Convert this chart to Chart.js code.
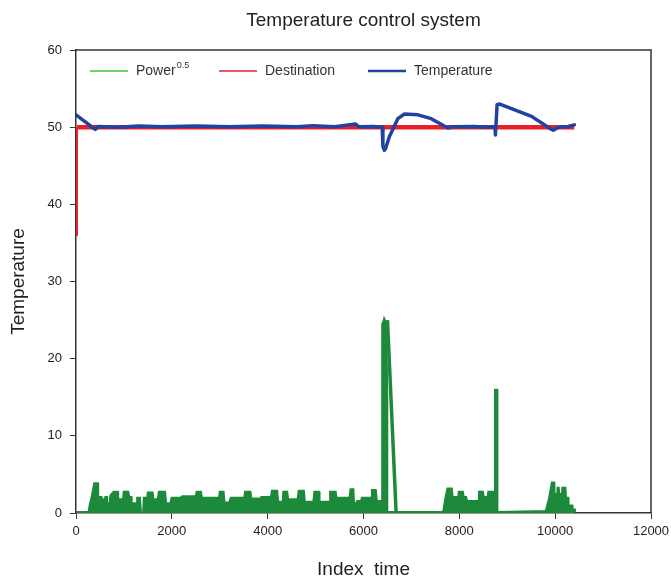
<!DOCTYPE html>
<html><head><meta charset="utf-8">
<script src="https://cdn.jsdelivr.net/npm/chart.js@4.4.0/dist/chart.umd.min.js"></script>
<style>html,body{margin:0;padding:0;background:#fff}</style>
</head><body>
<canvas id="c" width="671" height="577"></canvas>
<script>
// ---- data ----
const xTickValues = [0, 2000, 4000, 6000, 8000, 10000, 12000];
const yTickValues = [0, 10, 20, 30, 40, 50, 60];

// Power^0.5 envelope (dense oscillation drawn as filled envelope)
const powerX = [0,258,279,328,377,460,468,537,545,600,607,650,656,698,712,782,880,886,977,991,1096,1117,1160,1166,1256,1271,1340,1361,1396,1410,1480,1494,1605,1619,1703,1724,1864,1885,1968,1989,2178,2213,2492,2513,2611,2632,2980,2995,3085,3106,3190,3225,3504,3525,3644,3665,3853,3860,4063,4084,4203,4224,4310,4321,4412,4433,4621,4643,4760,4781,4949,4970,5074,5088,5284,5298,5424,5438,5703,5724,5794,5807,5842,5864,5947,5960,6157,6171,6262,6283,6370,6385,6410,6430,6460,6480,6500,6502,7657,7706,7748,7846,7867,7972,7985,8077,8098,8146,8167,8390,8403,8496,8516,8585,8600,8725,8739,8790,8800,9800,9870,9926,9982,9990,10037,10045,10079,10090,10135,10145,10219,10230,10275,10285,10359,10370,10414,10420];
const powerY = [0.15,0.15,1.0,2.3,3.9,3.9,2.1,2.1,1.8,1.8,2.1,2.1,1.3,1.3,2.3,2.8,2.8,1.8,1.8,2.8,2.8,2.1,2.1,1.3,1.3,2.0,2.0,0.1,0.1,2.0,2.0,2.7,2.7,1.8,1.8,2.8,2.8,1.3,1.3,2.0,2.0,2.2,2.2,2.8,2.8,2.0,2.0,2.8,2.8,1.4,1.4,2.0,2.0,2.8,2.8,1.9,1.9,2.1,2.1,2.9,2.9,1.5,1.5,2.8,2.8,1.8,1.8,2.9,2.9,1.5,1.5,2.8,2.8,1.5,1.5,2.8,2.8,2.0,2.0,3.1,3.1,1.3,1.3,1.6,1.6,2.0,2.0,3.0,3.0,1.6,1.6,24.5,24.8,25.3,24.9,24.6,15.3,0.15,0.15,2.0,3.2,3.2,2.1,2.1,2.8,2.8,2.1,2.1,1.6,1.6,2.8,2.8,2.1,2.1,2.8,2.8,16.0,16.0,0.15,0.3,2.0,4.0,4.0,2.5,2.5,3.3,3.3,2.5,2.5,3.3,3.3,2.0,2.0,1.0,1.0,0.5,0.5,0.15];
// falling tail of the big power burst
const powerTailX = [6500, 6680];
const powerTailY = [25.0, 0.15];

const destX = [20, 20, 10400];
const destY = [35.9, 50.0, 50.0];

const tempX = [0,400,470,900,1300,1800,2500,3200,3900,4600,4950,5400,5836,5900,6200,6390,6405,6436,6460,6541,6716,6855,7135,7413,7762,7850,8300,8600,8705,8745,8753,8788,8843,9088,9507,9926,9961,10066,10275,10400];
const tempY = [51.6,49.7,50.1,50.0,50.15,50.05,50.15,50.05,50.15,50.05,50.2,50.05,50.4,50.05,50.1,50.0,47.5,47.0,47.2,48.8,51.1,51.7,51.6,51.1,49.9,50.05,50.1,50.0,50.05,50.0,49.0,52.9,53.0,52.4,51.4,49.7,49.6,50.0,50.1,50.3];

const pts = (xs, ys) => xs.map((x, i) => ({x, y: ys[i]}));

const GREEN = 'rgb(28,138,58)';
const BLUE = 'rgb(33,66,160)';
const RED = 'rgb(232,32,40)';
const FONT = "'Liberation Sans', Arial, sans-serif";

const decor = {
  id: 'decor',
  afterDatasetsDraw(chart) {
    const {ctx, chartArea: a} = chart;
    ctx.save();
    ctx.strokeStyle = '#333';
    ctx.lineWidth = 1.5;
    ctx.beginPath();
    ctx.moveTo(a.left, a.top); ctx.lineTo(a.right, a.top); ctx.lineTo(a.right, a.bottom);
    ctx.stroke();
    ctx.restore();
  },
  afterDraw(chart) {
    const {ctx, chartArea: a} = chart;
    ctx.save();
    // title
    ctx.fillStyle = '#222';
    ctx.font = '19px ' + FONT;
    ctx.textAlign = 'center';
    ctx.textBaseline = 'middle';
    ctx.fillText('Temperature control system', (a.left + a.right) / 2, 21);
    // legend
    const ly = 71;
    const items = [
      {x: 90, color: 'rgb(60,196,60)', w: 1.5, text: 'Power', sup: '0.5'},
      {x: 219, color: RED, w: 1.5, text: 'Destination'},
      {x: 368, color: BLUE, w: 2.5, text: 'Temperature'}
    ];
    ctx.textAlign = 'left';
    items.forEach(it => {
      ctx.strokeStyle = it.color; ctx.lineWidth = it.w;
      ctx.beginPath(); ctx.moveTo(it.x, ly); ctx.lineTo(it.x + 38, ly); ctx.stroke();
      ctx.fillStyle = '#333';
      ctx.font = '14px ' + FONT;
      ctx.textBaseline = 'middle';
      ctx.fillText(it.text, it.x + 46, ly);
      if (it.sup) {
        const w = ctx.measureText(it.text).width;
        ctx.font = '9px ' + FONT;
        ctx.fillText(it.sup, it.x + 46 + w + 1, ly - 5);
      }
    });
    ctx.restore();
  }
};

new Chart(document.getElementById('c'), {
  type: 'line',
  data: {
    datasets: [
      {label: 'Power0.5', data: pts(powerX, powerY), borderColor: GREEN, backgroundColor: GREEN,
       borderWidth: 1.5, fill: 'origin', pointRadius: 0, tension: 0, order: 3},
      {label: 'Power tail', data: pts(powerTailX, powerTailY), borderColor: GREEN,
       borderWidth: 3.5, fill: false, pointRadius: 0, tension: 0, order: 3},
      {label: 'Destination', data: pts(destX, destY), borderColor: RED, borderWidth: 4.5,
       segment: {borderWidth: c => c.p0DataIndex === 0 ? 2 : 4.5},
       fill: false, pointRadius: 0, tension: 0, order: 2},
      {label: 'Temperature', data: pts(tempX, tempY), borderColor: BLUE, borderWidth: 3.5,
       fill: false, pointRadius: 0, tension: 0, order: 1, borderJoinStyle: 'round', borderCapStyle: 'round'}
    ]
  },
  options: {
    responsive: false,
    animation: false,
    layout: {padding: {top: 50, right: 20, left: 0, bottom: 0}},
    plugins: {legend: {display: false}, title: {display: false}, tooltip: {enabled: false}},
    scales: {
      x: {
        type: 'linear', min: 0, max: 12000,
        afterBuildTicks: s => { s.ticks = xTickValues.map(v => ({value: v})); },
        afterFit: s => { s.height = 64; s.paddingRight = 10; s.paddingLeft = 0; },
        ticks: {color: '#222', font: {size: 13, family: FONT}, padding: 5, maxRotation: 0, autoSkip: false,
                callback: v => String(v)},
        grid: {display: true, drawOnChartArea: false, drawTicks: true, tickLength: 6, color: '#333', lineWidth: 1},
        border: {display: true, color: '#333', width: 1.5},
        title: {display: true, text: 'Index  time', color: '#222', font: {size: 19, family: FONT, lineHeight: 1}, padding: {top: 0, bottom: -2}}
      },
      y: {
        type: 'linear', min: 0, max: 60,
        afterBuildTicks: s => { s.ticks = yTickValues.map(v => ({value: v})); },
        afterFit: s => { s.width = 76; },
        ticks: {color: '#222', font: {size: 13, family: FONT}, padding: 8, callback: v => String(v)},
        grid: {display: true, drawOnChartArea: false, drawTicks: true, tickLength: 6, color: '#333', lineWidth: 1},
        border: {display: true, color: '#333', width: 1.5},
        title: {display: true, text: 'Temperature', color: '#222', font: {size: 19, family: FONT, lineHeight: 1}, padding: {top: 9, bottom: 0}}
      }
    }
  },
  plugins: [decor]
});
</script>
</body></html>
